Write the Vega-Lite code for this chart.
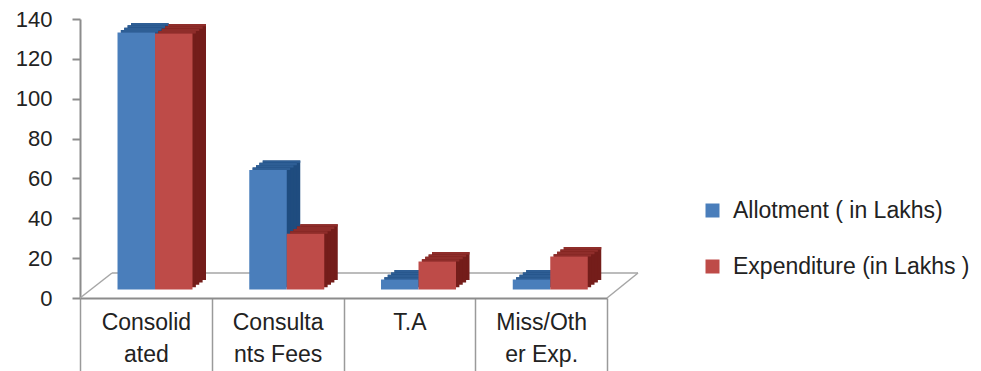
{
  "$schema": "https://vega.github.io/schema/vega-lite/v6.json",
  "width": 527,
  "height": 279,
  "autosize": "none",
  "padding": {"left": 80, "top": 19, "right": 374, "bottom": 73},
  "background": "white",
  "config": {"view": {"stroke": null}, "font": "Liberation Sans"},
  "data": {
    "values": [
      {"category": "Consolidated", "series": "Allotment ( in  Lakhs)", "value": 129},
      {"category": "Consolidated", "series": "Expenditure  (in Lakhs )", "value": 128.5},
      {"category": "Consultants Fees", "series": "Allotment ( in  Lakhs)", "value": 60},
      {"category": "Consultants Fees", "series": "Expenditure  (in Lakhs )", "value": 28},
      {"category": "T.A", "series": "Allotment ( in  Lakhs)", "value": 5},
      {"category": "T.A", "series": "Expenditure  (in Lakhs )", "value": 14},
      {"category": "Miss/Other Exp.", "series": "Allotment ( in  Lakhs)", "value": 5},
      {"category": "Miss/Other Exp.", "series": "Expenditure  (in Lakhs )", "value": 16.5}
    ]
  },
  "resolve": {"scale": {"x": "independent", "xOffset": "independent"}, "axis": {"y": "independent"}},
  "layer": [
    {
      "data": {"values": [{}]},
      "mark": {"type": "rule", "color": "#a6a6a6", "strokeWidth": 1.5, "xOffset": 32, "x2Offset": 31, "yOffset": -25},
      "encoding": {
        "x": {"datum": 0, "type": "quantitative", "scale": {"domain": [0, 1], "nice": false, "zero": false}, "axis": null},
        "x2": {"datum": 1},
        "y": {"datum": 0, "type": "quantitative", "scale": {"domain": [0, 140], "nice": false}, "axis": null}
      }
    },
    {
      "data": {"values": [{}]},
      "mark": {"type": "rule", "color": "#a6a6a6", "strokeWidth": 1.5, "x2Offset": 32, "y2Offset": -25},
      "encoding": {
        "x": {"datum": 0, "type": "quantitative", "scale": {"domain": [0, 1], "nice": false, "zero": false}, "axis": null},
        "x2": {"datum": 0},
        "y": {"datum": 0, "type": "quantitative", "scale": {"domain": [0, 140], "nice": false}, "axis": null},
        "y2": {"datum": 0}
      }
    },
    {
      "data": {"values": [{}]},
      "mark": {"type": "rule", "color": "#a6a6a6", "strokeWidth": 1.5, "x2Offset": 31, "y2Offset": -25},
      "encoding": {
        "x": {"datum": 1, "type": "quantitative", "scale": {"domain": [0, 1], "nice": false, "zero": false}, "axis": null},
        "x2": {"datum": 1},
        "y": {"datum": 0, "type": "quantitative", "scale": {"domain": [0, 140], "nice": false}, "axis": null},
        "y2": {"datum": 0}
      }
    },

    {"transform": [{"filter": "datum.series == 'Allotment ( in  Lakhs)'"}], "mark": {"type": "bar", "color": "#1f4c7f", "yOffset": -18, "y2Offset": -18},
     "encoding": {"x": {"field": "category", "type": "nominal", "sort": ["Consolidated", "Consultants Fees", "T.A", "Miss/Other Exp."], "scale": {"paddingInner": 0, "paddingOuter": 0}, "axis": null},
      "xOffset": {"field": "series", "type": "nominal", "scale": {"domain": ["Allotment ( in  Lakhs)", "Expenditure  (in Lakhs )"], "paddingInner": 0, "paddingOuter": 0.7567, "align": 0.8987}},
      "y": {"field": "value", "type": "quantitative", "scale": {"domain": [0, 140], "nice": false}, "axis": null}}},
    {"transform": [{"filter": "datum.series == 'Allotment ( in  Lakhs)'"}], "mark": {"type": "bar", "color": "#2e5e95", "yOffset": -18, "y2Offset": -15.625},
     "encoding": {"x": {"field": "category", "type": "nominal", "sort": ["Consolidated", "Consultants Fees", "T.A", "Miss/Other Exp."], "scale": {"paddingInner": 0, "paddingOuter": 0}, "axis": null},
      "xOffset": {"field": "series", "type": "nominal", "scale": {"domain": ["Allotment ( in  Lakhs)", "Expenditure  (in Lakhs )"], "paddingInner": 0, "paddingOuter": 0.7567, "align": 0.8987}},
      "y": {"field": "value", "type": "quantitative", "scale": {"domain": [0, 140], "nice": false}, "axis": null}, "y2": {"field": "value"}}},
    {"transform": [{"filter": "datum.series == 'Allotment ( in  Lakhs)'"}], "mark": {"type": "bar", "color": "#1f4c7f", "yOffset": -15.625, "y2Offset": -15.625},
     "encoding": {"x": {"field": "category", "type": "nominal", "sort": ["Consolidated", "Consultants Fees", "T.A", "Miss/Other Exp."], "scale": {"paddingInner": 0, "paddingOuter": 0}, "axis": null},
      "xOffset": {"field": "series", "type": "nominal", "scale": {"domain": ["Allotment ( in  Lakhs)", "Expenditure  (in Lakhs )"], "paddingInner": 0, "paddingOuter": 0.7567, "align": 0.8392}},
      "y": {"field": "value", "type": "quantitative", "scale": {"domain": [0, 140], "nice": false}, "axis": null}}},
    {"transform": [{"filter": "datum.series == 'Allotment ( in  Lakhs)'"}], "mark": {"type": "bar", "color": "#2e5e95", "yOffset": -15.625, "y2Offset": -13.25},
     "encoding": {"x": {"field": "category", "type": "nominal", "sort": ["Consolidated", "Consultants Fees", "T.A", "Miss/Other Exp."], "scale": {"paddingInner": 0, "paddingOuter": 0}, "axis": null},
      "xOffset": {"field": "series", "type": "nominal", "scale": {"domain": ["Allotment ( in  Lakhs)", "Expenditure  (in Lakhs )"], "paddingInner": 0, "paddingOuter": 0.7567, "align": 0.8392}},
      "y": {"field": "value", "type": "quantitative", "scale": {"domain": [0, 140], "nice": false}, "axis": null}, "y2": {"field": "value"}}},
    {"transform": [{"filter": "datum.series == 'Allotment ( in  Lakhs)'"}], "mark": {"type": "bar", "color": "#1f4c7f", "yOffset": -13.25, "y2Offset": -13.25},
     "encoding": {"x": {"field": "category", "type": "nominal", "sort": ["Consolidated", "Consultants Fees", "T.A", "Miss/Other Exp."], "scale": {"paddingInner": 0, "paddingOuter": 0}, "axis": null},
      "xOffset": {"field": "series", "type": "nominal", "scale": {"domain": ["Allotment ( in  Lakhs)", "Expenditure  (in Lakhs )"], "paddingInner": 0, "paddingOuter": 0.7567, "align": 0.7797}},
      "y": {"field": "value", "type": "quantitative", "scale": {"domain": [0, 140], "nice": false}, "axis": null}}},
    {"transform": [{"filter": "datum.series == 'Allotment ( in  Lakhs)'"}], "mark": {"type": "bar", "color": "#2e5e95", "yOffset": -13.25, "y2Offset": -10.875},
     "encoding": {"x": {"field": "category", "type": "nominal", "sort": ["Consolidated", "Consultants Fees", "T.A", "Miss/Other Exp."], "scale": {"paddingInner": 0, "paddingOuter": 0}, "axis": null},
      "xOffset": {"field": "series", "type": "nominal", "scale": {"domain": ["Allotment ( in  Lakhs)", "Expenditure  (in Lakhs )"], "paddingInner": 0, "paddingOuter": 0.7567, "align": 0.7797}},
      "y": {"field": "value", "type": "quantitative", "scale": {"domain": [0, 140], "nice": false}, "axis": null}, "y2": {"field": "value"}}},
    {"transform": [{"filter": "datum.series == 'Allotment ( in  Lakhs)'"}], "mark": {"type": "bar", "color": "#1f4c7f", "yOffset": -10.875, "y2Offset": -10.875},
     "encoding": {"x": {"field": "category", "type": "nominal", "sort": ["Consolidated", "Consultants Fees", "T.A", "Miss/Other Exp."], "scale": {"paddingInner": 0, "paddingOuter": 0}, "axis": null},
      "xOffset": {"field": "series", "type": "nominal", "scale": {"domain": ["Allotment ( in  Lakhs)", "Expenditure  (in Lakhs )"], "paddingInner": 0, "paddingOuter": 0.7567, "align": 0.7203}},
      "y": {"field": "value", "type": "quantitative", "scale": {"domain": [0, 140], "nice": false}, "axis": null}}},
    {"transform": [{"filter": "datum.series == 'Allotment ( in  Lakhs)'"}], "mark": {"type": "bar", "color": "#2e5e95", "yOffset": -10.875, "y2Offset": -8.5},
     "encoding": {"x": {"field": "category", "type": "nominal", "sort": ["Consolidated", "Consultants Fees", "T.A", "Miss/Other Exp."], "scale": {"paddingInner": 0, "paddingOuter": 0}, "axis": null},
      "xOffset": {"field": "series", "type": "nominal", "scale": {"domain": ["Allotment ( in  Lakhs)", "Expenditure  (in Lakhs )"], "paddingInner": 0, "paddingOuter": 0.7567, "align": 0.7203}},
      "y": {"field": "value", "type": "quantitative", "scale": {"domain": [0, 140], "nice": false}, "axis": null}, "y2": {"field": "value"}}},

    {"transform": [{"filter": "datum.series == 'Expenditure  (in Lakhs )'"}], "mark": {"type": "bar", "color": "#741d1a", "yOffset": -18, "y2Offset": -18},
     "encoding": {"x": {"field": "category", "type": "nominal", "sort": ["Consolidated", "Consultants Fees", "T.A", "Miss/Other Exp."], "scale": {"paddingInner": 0, "paddingOuter": 0}, "axis": null},
      "xOffset": {"field": "series", "type": "nominal", "scale": {"domain": ["Allotment ( in  Lakhs)", "Expenditure  (in Lakhs )"], "paddingInner": 0, "paddingOuter": 0.7567, "align": 0.8987}},
      "y": {"field": "value", "type": "quantitative", "scale": {"domain": [0, 140], "nice": false}, "axis": null}}},
    {"transform": [{"filter": "datum.series == 'Expenditure  (in Lakhs )'"}], "mark": {"type": "bar", "color": "#8f2d2a", "yOffset": -18, "y2Offset": -15.625},
     "encoding": {"x": {"field": "category", "type": "nominal", "sort": ["Consolidated", "Consultants Fees", "T.A", "Miss/Other Exp."], "scale": {"paddingInner": 0, "paddingOuter": 0}, "axis": null},
      "xOffset": {"field": "series", "type": "nominal", "scale": {"domain": ["Allotment ( in  Lakhs)", "Expenditure  (in Lakhs )"], "paddingInner": 0, "paddingOuter": 0.7567, "align": 0.8987}},
      "y": {"field": "value", "type": "quantitative", "scale": {"domain": [0, 140], "nice": false}, "axis": null}, "y2": {"field": "value"}}},
    {"transform": [{"filter": "datum.series == 'Expenditure  (in Lakhs )'"}], "mark": {"type": "bar", "color": "#741d1a", "yOffset": -15.625, "y2Offset": -15.625},
     "encoding": {"x": {"field": "category", "type": "nominal", "sort": ["Consolidated", "Consultants Fees", "T.A", "Miss/Other Exp."], "scale": {"paddingInner": 0, "paddingOuter": 0}, "axis": null},
      "xOffset": {"field": "series", "type": "nominal", "scale": {"domain": ["Allotment ( in  Lakhs)", "Expenditure  (in Lakhs )"], "paddingInner": 0, "paddingOuter": 0.7567, "align": 0.8392}},
      "y": {"field": "value", "type": "quantitative", "scale": {"domain": [0, 140], "nice": false}, "axis": null}}},
    {"transform": [{"filter": "datum.series == 'Expenditure  (in Lakhs )'"}], "mark": {"type": "bar", "color": "#8f2d2a", "yOffset": -15.625, "y2Offset": -13.25},
     "encoding": {"x": {"field": "category", "type": "nominal", "sort": ["Consolidated", "Consultants Fees", "T.A", "Miss/Other Exp."], "scale": {"paddingInner": 0, "paddingOuter": 0}, "axis": null},
      "xOffset": {"field": "series", "type": "nominal", "scale": {"domain": ["Allotment ( in  Lakhs)", "Expenditure  (in Lakhs )"], "paddingInner": 0, "paddingOuter": 0.7567, "align": 0.8392}},
      "y": {"field": "value", "type": "quantitative", "scale": {"domain": [0, 140], "nice": false}, "axis": null}, "y2": {"field": "value"}}},
    {"transform": [{"filter": "datum.series == 'Expenditure  (in Lakhs )'"}], "mark": {"type": "bar", "color": "#741d1a", "yOffset": -13.25, "y2Offset": -13.25},
     "encoding": {"x": {"field": "category", "type": "nominal", "sort": ["Consolidated", "Consultants Fees", "T.A", "Miss/Other Exp."], "scale": {"paddingInner": 0, "paddingOuter": 0}, "axis": null},
      "xOffset": {"field": "series", "type": "nominal", "scale": {"domain": ["Allotment ( in  Lakhs)", "Expenditure  (in Lakhs )"], "paddingInner": 0, "paddingOuter": 0.7567, "align": 0.7797}},
      "y": {"field": "value", "type": "quantitative", "scale": {"domain": [0, 140], "nice": false}, "axis": null}}},
    {"transform": [{"filter": "datum.series == 'Expenditure  (in Lakhs )'"}], "mark": {"type": "bar", "color": "#8f2d2a", "yOffset": -13.25, "y2Offset": -10.875},
     "encoding": {"x": {"field": "category", "type": "nominal", "sort": ["Consolidated", "Consultants Fees", "T.A", "Miss/Other Exp."], "scale": {"paddingInner": 0, "paddingOuter": 0}, "axis": null},
      "xOffset": {"field": "series", "type": "nominal", "scale": {"domain": ["Allotment ( in  Lakhs)", "Expenditure  (in Lakhs )"], "paddingInner": 0, "paddingOuter": 0.7567, "align": 0.7797}},
      "y": {"field": "value", "type": "quantitative", "scale": {"domain": [0, 140], "nice": false}, "axis": null}, "y2": {"field": "value"}}},
    {"transform": [{"filter": "datum.series == 'Expenditure  (in Lakhs )'"}], "mark": {"type": "bar", "color": "#741d1a", "yOffset": -10.875, "y2Offset": -10.875},
     "encoding": {"x": {"field": "category", "type": "nominal", "sort": ["Consolidated", "Consultants Fees", "T.A", "Miss/Other Exp."], "scale": {"paddingInner": 0, "paddingOuter": 0}, "axis": null},
      "xOffset": {"field": "series", "type": "nominal", "scale": {"domain": ["Allotment ( in  Lakhs)", "Expenditure  (in Lakhs )"], "paddingInner": 0, "paddingOuter": 0.7567, "align": 0.7203}},
      "y": {"field": "value", "type": "quantitative", "scale": {"domain": [0, 140], "nice": false}, "axis": null}}},
    {"transform": [{"filter": "datum.series == 'Expenditure  (in Lakhs )'"}], "mark": {"type": "bar", "color": "#8f2d2a", "yOffset": -10.875, "y2Offset": -8.5},
     "encoding": {"x": {"field": "category", "type": "nominal", "sort": ["Consolidated", "Consultants Fees", "T.A", "Miss/Other Exp."], "scale": {"paddingInner": 0, "paddingOuter": 0}, "axis": null},
      "xOffset": {"field": "series", "type": "nominal", "scale": {"domain": ["Allotment ( in  Lakhs)", "Expenditure  (in Lakhs )"], "paddingInner": 0, "paddingOuter": 0.7567, "align": 0.7203}},
      "y": {"field": "value", "type": "quantitative", "scale": {"domain": [0, 140], "nice": false}, "axis": null}, "y2": {"field": "value"}}},

    {
      "mark": {"type": "bar", "yOffset": -8.5, "y2Offset": -8.5},
      "encoding": {
        "x": {
          "field": "category", "type": "nominal",
          "sort": ["Consolidated", "Consultants Fees", "T.A", "Miss/Other Exp."],
          "scale": {"paddingInner": 0, "paddingOuter": 0},
          "axis": {
            "title": null, "labelAngle": 0, "labelFontSize": 23, "labelColor": "#222",
            "labelLineHeight": 32, "labelBaseline": "top", "labelPadding": -62,
            "labelExpr": "datum.value == 'Consolidated' ? ['Consolid', 'ated'] : datum.value == 'Consultants Fees' ? ['Consulta', 'nts  Fees'] : datum.value == 'Miss/Other Exp.' ? ['Miss/Oth', 'er Exp.'] : datum.value",
            "domainColor": "#8c8c8c", "domainWidth": 2,
            "tickColor": "#9a9a9a", "tickWidth": 1.5, "tickSize": 75, "tickBand": "extent",
            "labelLimit": 200
          }
        },
        "xOffset": {"field": "series", "type": "nominal", "scale": {"domain": ["Allotment ( in  Lakhs)", "Expenditure  (in Lakhs )"], "paddingInner": 0, "paddingOuter": 0.7567, "align": 0.661}},
        "y": {
          "field": "value", "type": "quantitative",
          "scale": {"domain": [0, 140], "nice": false},
          "axis": {
            "title": null, "values": [0, 20, 40, 60, 80, 100, 120, 140],
            "grid": false, "labelFontSize": 22, "labelColor": "#222", "labelPadding": 20,
            "tickSize": 8, "tickColor": "#8c8c8c", "tickWidth": 2,
            "domainColor": "#8c8c8c", "domainWidth": 2
          }
        },
        "color": {
          "field": "series", "type": "nominal",
          "scale": {"domain": ["Allotment ( in  Lakhs)", "Expenditure  (in Lakhs )"], "range": ["#4a7ebb", "#be4b48"]},
          "legend": {
            "orient": "none", "legendX": 621, "legendY": 180, "title": null,
            "symbolType": "square", "symbolSize": 196, "symbolStrokeWidth": 0,
            "labelFontSize": 23, "labelColor": "#222", "labelOffset": 9,
            "rowPadding": 32, "padding": 0, "labelLimit": 400
          }
        }
      }
    }
  ]
}
